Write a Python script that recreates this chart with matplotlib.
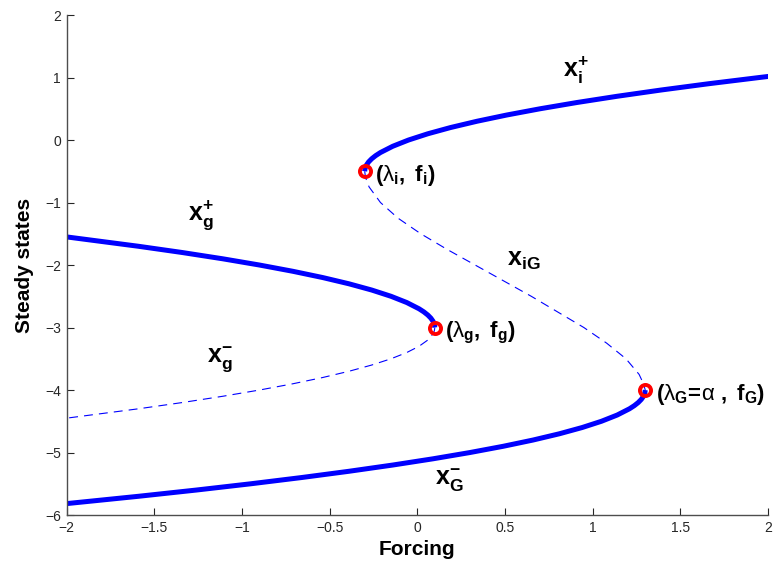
import matplotlib
matplotlib.use("Agg")
import matplotlib.pyplot as plt

plt.rcParams['font.family'] = ['Liberation Sans', 'DejaVu Sans']
plt.rcParams['mathtext.fontset'] = 'custom'
plt.rcParams['mathtext.rm'] = 'Liberation Sans'
plt.rcParams['mathtext.bf'] = 'Liberation Sans:bold'
plt.rcParams['mathtext.it'] = 'Liberation Sans'  # keep greek letters upright

# upper branch x_i^+ (steady state, forcing)
xi_plus_state = [-0.50, -0.45, -0.40, -0.35, -0.30, -0.25, -0.20, -0.10, 0.00, 0.10,
                 0.20, 0.30, 0.40, 0.50, 0.60, 0.70, 0.80, 0.90, 1.00, 1.02]
xi_plus_force = [-0.30, -0.2975, -0.29, -0.2775, -0.26, -0.2375, -0.21, -0.14, -0.05, 0.06,
                 0.19, 0.34, 0.51, 0.70, 0.91, 1.14, 1.39, 1.66, 1.95, 2.01]

# unstable middle branch x_iG
xiG_state = [-0.50, -0.60, -0.75, -1.00, -1.25, -1.50, -1.75, -2.00, -2.25,
             -2.50, -2.75, -3.00, -3.25, -3.50, -3.75, -3.90, -4.00]
xiG_force = [-0.30, -0.295, -0.275, -0.21, -0.11, 0.02, 0.17, 0.33, 0.49,
             0.65, 0.80, 0.95, 1.08, 1.19, 1.265, 1.29, 1.30]

# lower branch x_G^-
xG_minus_state = [-4.00, -4.05, -4.10, -4.15, -4.20, -4.25, -4.30, -4.40, -4.50, -4.60, -4.70,
                  -4.80, -4.90, -5.00, -5.10, -5.20, -5.30, -5.40, -5.50, -5.60, -5.70, -5.82]
xG_minus_force = [1.30, 1.2975, 1.29, 1.2775, 1.26, 1.2375, 1.21, 1.14, 1.05, 0.94, 0.81,
                  0.66, 0.49, 0.30, 0.09, -0.14, -0.39, -0.66, -0.95, -1.26, -1.59, -2.01]

# x_g^+ (stable) and x_g^- (unstable)
xg_plus_state = [-3.00, -2.95, -2.90, -2.85, -2.80, -2.75, -2.70, -2.60, -2.50, -2.40,
                 -2.30, -2.20, -2.10, -2.00, -1.90, -1.80, -1.70, -1.55]
xg_plus_force = [0.10, 0.0975, 0.09, 0.0775, 0.06, 0.0375, 0.01, -0.06, -0.15, -0.26,
                 -0.39, -0.54, -0.71, -0.90, -1.11, -1.34, -1.59, -2.00]
xg_minus_state = [-3.00, -3.05, -3.10, -3.20, -3.30, -3.40, -3.50, -3.60, -3.70,
                  -3.80, -3.90, -4.00, -4.10, -4.20, -4.30, -4.45]
xg_minus_force = [0.10, 0.0975, 0.09, 0.06, 0.01, -0.06, -0.15, -0.26, -0.39,
                  -0.54, -0.71, -0.90, -1.11, -1.34, -1.59, -2.00]

# fold points
fold_force = [-0.3, 0.1, 1.3]
fold_state = [-0.5, -3.0, -4.0]
fold_labels = [r'$\mathbf{(}\lambda_{\mathbf{i}}\mathbf{,\ f}_{\mathbf{i}}\mathbf{)}$',
               r'$\mathbf{(}\lambda_{\mathbf{g}}\mathbf{,\ f}_{\mathbf{g}}\mathbf{)}$',
               r'$\mathbf{(}\lambda_{\mathbf{G}}\!\mathbf{=}\!\alpha\mathbf{\ ,\ f}_{\mathbf{G}}\mathbf{)}$']

branch_labels = [r'$\mathbf{x}_{\mathbf{i}}^{\mathbf{+}}$', r'$\mathbf{x}_{\mathbf{g}}^{\mathbf{+}}$',
                 r'$\mathbf{x}_{\mathbf{iG}}$', r'$\mathbf{x}_{\mathbf{g}}^{\mathbf{-}}$',
                 r'$\mathbf{x}_{\mathbf{G}}^{\mathbf{-}}$']
branch_label_x = [0.83, -1.31, 0.51, -1.20, 0.10]
branch_label_y = [1.01, -1.28, -2.02, -3.57, -5.52]

fig = plt.figure(figsize=(7.77, 5.71), dpi=100)
ax = fig.add_axes([0.0857, 0.098, 0.9027, 0.8757])

thick = dict(color='blue', lw=3.6, solid_capstyle='butt')
thin = dict(color='blue', lw=0.8, linestyle=(0, (8, 5.5)))

ax.plot(xi_plus_force, xi_plus_state, **thick)
ax.plot(xiG_force, xiG_state, **thin)
ax.plot(xG_minus_force, xG_minus_state, **thick)
ax.plot(xg_plus_force, xg_plus_state, **thick)
ax.plot(xg_minus_force, xg_minus_state, **thin)

ax.plot(fold_force, fold_state, 'o', ms=8, mfc='none', mec='red', mew=2.8, zorder=5)

for fx, fy, lab in zip(fold_force, fold_state, fold_labels):
    ax.text(fx + 0.06, fy - 0.16, lab, fontsize=16, va='baseline', ha='left')

for bx, by, lab in zip(branch_label_x, branch_label_y, branch_labels):
    ax.text(bx, by, lab, fontsize=18, va='baseline', ha='left')

ax.set_xlim(-2, 2)
ax.set_ylim(-6, 2)
ax.set_xticks([-2, -1.5, -1, -0.5, 0, 0.5, 1, 1.5, 2])
ax.set_xticklabels(['\u22122', '\u22121.5', '\u22121', '\u22120.5', '0', '0.5', '1', '1.5', '2'])
ax.set_yticks([-6, -5, -4, -3, -2, -1, 0, 1, 2])
ax.set_yticklabels(['\u22126', '\u22125', '\u22124', '\u22123', '\u22122', '\u22121', '0', '1', '2'])
ax.tick_params(direction='in', length=5, width=0.8, labelsize=10, colors='0.15', pad=4)

for side in ['top', 'right']:
    ax.spines[side].set_visible(False)
for side in ['left', 'bottom']:
    ax.spines[side].set_color('0.3')
    ax.spines[side].set_linewidth(1.0)

ax.set_xlabel('Forcing', fontsize=15, fontweight='bold', labelpad=4)
ax.set_ylabel('Steady states', fontsize=15, fontweight='bold', labelpad=8)

fig.savefig('out.png', dpi=100)
